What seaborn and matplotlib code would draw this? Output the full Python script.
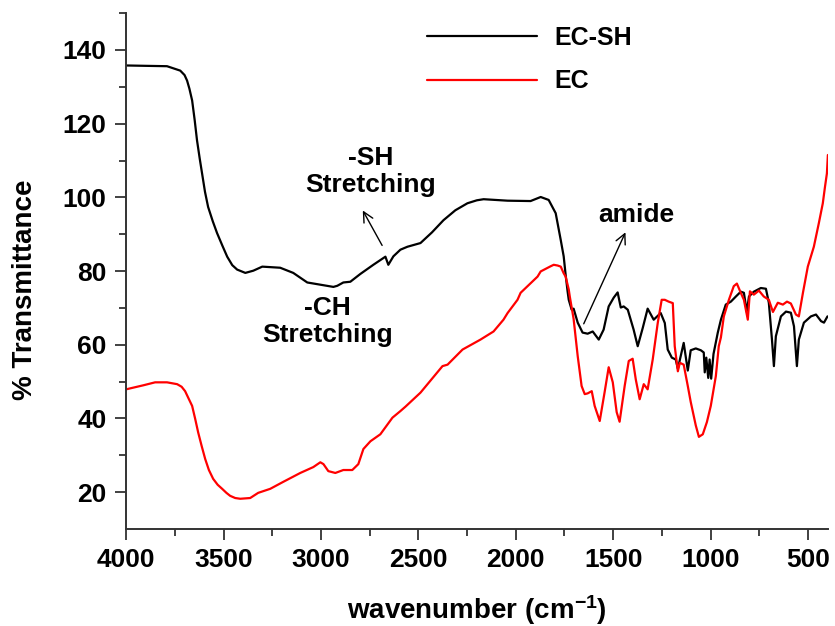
import numpy as np
import pandas as pd
import matplotlib
matplotlib.use("Agg")
import matplotlib.pyplot as plt
from matplotlib.ticker import FixedLocator
import seaborn as sns

# FTIR spectrum of EC-SH (thiolated) and EC
ecsh_wavenumber = [4000, 3900, 3790, 3722, 3700, 3687, 3675, 3661, 3648, 3636,
                   3622, 3610, 3595, 3579, 3555, 3533, 3505, 3481, 3455, 3430,
                   3388, 3347, 3301, 3209, 3142, 3070, 3003, 2936,
                   2916, 2885, 2849, 2798, 2731, 2669, 2654, 2628, 2592, 2556,
                   2489, 2430, 2371, 2310, 2248, 2200, 2165, 2042, 1924, 1872, 1831, 1795, 1769,
                   1754, 1744, 1734, 1728, 1713, 1703, 1682, 1657, 1631, 1605,
                   1574, 1549, 1523, 1497, 1477, 1461, 1446, 1425, 1395, 1374,
                   1348, 1323, 1292, 1256, 1235, 1220, 1199, 1179, 1168, 1153,
                   1138, 1117, 1102, 1076, 1050, 1035, 1030, 1022, 1012, 1005,
                   997, 985, 963, 947, 922, 896, 870, 845, 829, 814,
                   803, 778, 742, 716, 701, 685, 675, 665, 639, 613,
                   588, 572, 557, 547, 521, 485, 459, 433, 418, 400]
ecsh_transmittance = [135.8, 135.7, 135.6, 134.4, 133.2, 131.7, 129.5, 126.3, 121.0, 115.5,
                      110.5, 106.5, 101.5, 97.4, 93.5, 90.3, 86.8, 83.9, 81.6, 80.4,
                      79.5, 80.1, 81.2, 80.9, 79.5, 76.9, 76.3, 75.7,
                      76.0, 76.9, 77.1, 79.2, 81.7, 83.9, 81.7, 84.0, 85.8, 86.6,
                      87.6, 90.5, 93.8, 96.5, 98.4, 99.2, 99.5, 99.1, 99.0, 100.1, 99.3, 95.7, 88.4,
                      84.0, 79.0, 74.5, 72.2, 69.5, 69.8, 66.0, 63.3, 63.0, 63.6,
                      61.4, 64.1, 70.4, 72.8, 74.2, 70.1, 70.4, 69.5, 64.1, 59.6,
                      64.6, 69.8, 66.8, 68.6, 65.9, 58.7, 56.5, 56.0, 53.5, 57.0,
                      60.5, 53.0, 58.5, 59.0, 58.5, 57.9, 52.5, 56.5, 51.0, 56.0,
                      50.8, 57.5, 63.3, 66.8, 70.9, 71.7, 73.1, 74.4, 74.1, 68.9,
                      73.1, 74.4, 75.4, 75.2, 71.4, 61.4, 54.2, 62.3, 67.7, 69.0,
                      68.7, 65.0, 54.2, 61.4, 66.0, 67.7, 68.2, 66.4, 66.0, 67.7]

ec_wavenumber = [4000, 3911, 3851, 3790, 3738, 3715, 3697, 3680, 3661, 3645,
                 3630, 3612, 3594, 3575, 3553, 3530, 3507, 3485, 3466, 3440,
                 3414, 3363, 3322, 3260, 3193, 3106, 3039, 3003,
                 2987, 2962, 2926, 2885, 2839, 2808, 2782, 2746, 2695, 2633,
                 2592, 2566, 2489, 2376, 2350, 2273, 2181, 2114, 2063, 2042,
                 1991, 1975, 1888, 1872, 1821, 1805, 1785, 1769, 1754, 1744,
                 1728, 1723, 1703, 1682, 1662, 1646, 1631, 1610, 1595, 1569,
                 1544, 1523, 1502, 1482, 1467, 1441, 1420, 1400, 1384, 1364,
                 1343, 1323, 1297, 1271, 1251, 1235, 1215, 1194, 1184, 1168,
                 1158, 1138, 1117, 1102, 1076, 1060, 1040, 1019, 999, 973,
                 958, 947, 932, 906, 881, 865, 845, 829, 809, 798,
                 778, 752, 727, 701, 680, 655, 629, 608, 588, 562,
                 547, 526, 501, 470, 444, 424, 413, 403, 398]
ec_transmittance = [47.9, 49.0, 49.8, 49.8, 49.3, 48.6, 47.4, 45.5, 43.4, 39.8,
                    36.2, 32.5, 29.0, 26.0, 23.6, 22.0, 20.9, 19.8, 19.0, 18.4,
                    18.2, 18.4, 19.8, 20.9, 22.8, 25.2, 26.8, 28.1,
                    27.6, 25.7, 25.2, 26.0, 26.0, 27.6, 31.7, 33.8, 35.7, 40.2,
                    42.0, 43.2, 47.0, 54.2, 54.6, 58.7, 61.4, 63.6, 66.8, 68.6,
                    72.2, 74.1, 78.5, 79.9, 81.3, 81.7, 81.5, 81.2, 79.4, 78.5,
                    75.0, 73.2, 67.0, 56.9, 48.8, 46.6, 46.8, 47.4, 43.4, 39.3,
                    47.1, 53.9, 49.8, 41.7, 39.1, 48.8, 55.6, 56.2, 50.6, 45.2,
                    49.3, 47.9, 56.0, 66.0, 72.2, 72.2, 71.7, 71.3, 59.6, 52.8,
                    55.1, 54.6, 48.8, 44.5, 38.1, 35.0, 35.7, 39.0, 43.4, 51.5,
                    59.6, 62.0, 67.7, 72.2, 75.9, 76.6, 74.1, 72.2, 66.8, 74.5,
                    73.6, 74.7, 73.1, 72.2, 68.9, 71.4, 70.9, 71.7, 71.2, 68.2,
                    67.7, 74.1, 81.2, 86.6, 93.1, 98.4, 102.8, 106.5, 111.5]

series_names = ["EC-SH", "EC"]
series_colors = {"EC-SH": "#000000", "EC": "#ff0000"}

sns.set_style("ticks")
plt.rcParams["font.family"] = ["Liberation Sans", "DejaVu Sans"]
plt.rcParams["font.weight"] = "bold"
plt.rcParams["text.color"] = "black"
plt.rcParams["axes.labelcolor"] = "black"
plt.rcParams["xtick.labelcolor"] = "black"
plt.rcParams["ytick.labelcolor"] = "black"
plt.rcParams["mathtext.fontset"] = "custom"
plt.rcParams["mathtext.rm"] = "Liberation Sans:bold"
plt.rcParams["mathtext.bf"] = "Liberation Sans:bold"
plt.rcParams["mathtext.default"] = "bf"

df = pd.concat([
    pd.DataFrame({"wavenumber": ecsh_wavenumber, "T": ecsh_transmittance, "sample": "EC-SH"}),
    pd.DataFrame({"wavenumber": ec_wavenumber, "T": ec_transmittance, "sample": "EC"}),
], ignore_index=True)

fig = plt.figure(figsize=(8.35, 6.26), dpi=100)
ax = fig.add_axes([0.151, 0.155, 0.8407, 0.824])

sns.lineplot(data=df, x="wavenumber", y="T", hue="sample", hue_order=series_names,
             palette=series_colors, estimator=None, sort=False, linewidth=1.6,
             ax=ax, legend=False)

ax.set_xlim(4000, 397)
ax.set_ylim(10, 150)
ax.xaxis.set_major_locator(FixedLocator([4000, 3500, 3000, 2500, 2000, 1500, 1000, 500]))
ax.xaxis.set_minor_locator(FixedLocator([3750, 3250, 2750, 2250, 1750, 1250, 750]))
ax.yaxis.set_major_locator(FixedLocator([20, 40, 60, 80, 100, 120, 140]))
ax.yaxis.set_minor_locator(FixedLocator([30, 50, 70, 90, 110, 130, 150]))

axis_color = "#333333"
sns.despine(ax=ax)
for side in ("left", "bottom"):
    ax.spines[side].set_color(axis_color)
    ax.spines[side].set_linewidth(1.4)
ax.tick_params(which="major", direction="out", length=8, width=1.3,
               color=axis_color, labelcolor="black", labelsize=19, pad=6)
ax.tick_params(which="minor", direction="out", length=5, width=1.3, color=axis_color)
for lab in ax.get_xticklabels() + ax.get_yticklabels():
    lab.set_fontweight("bold")

ax.set_xlabel(r"wavenumber (cm$^{\mathbf{-1}}$)", fontsize=20, fontweight="bold", color="black")
ax.set_ylabel("% Transmittance", fontsize=20, fontweight="bold", color="black")
ax.xaxis.set_label_coords(0.5, -0.125)
ax.yaxis.set_label_coords(-0.125, 0.463)

# legend
handles = [plt.Line2D([], [], color=series_colors[n], lw=1.6) for n in series_names]
leg = ax.legend(handles, series_names, loc="upper left", bbox_to_anchor=(0.428, 0.975),
                frameon=False, handlelength=4.4, handletextpad=0.7,
                labelspacing=0.77, borderpad=0, borderaxespad=0,
                prop={"weight": "bold", "size": 18})
for t in leg.get_texts():
    t.set_color("black")

# band annotations
ax.text(2746, 107, "-SH\nStretching", ha="center", va="center", fontsize=19,
        fontweight="bold", linespacing=1.15, color="black")
ax.annotate("", xy=(2792, 97.1), xytext=(2679, 86.3),
            arrowprops=dict(arrowstyle="->", color="black", lw=1.0, mutation_scale=18))
ax.text(2967, 66.3, "-CH\nStretching", ha="center", va="center", fontsize=19,
        fontweight="bold", linespacing=1.15, color="black")
ax.text(1379, 95.2, "amide", ha="center", va="center", fontsize=19,
        fontweight="bold", color="black")
ax.annotate("", xy=(1431, 91.2), xytext=(1657, 65.0),
            arrowprops=dict(arrowstyle="->", color="black", lw=1.0, mutation_scale=18))

fig.savefig("out.png", dpi=100)
